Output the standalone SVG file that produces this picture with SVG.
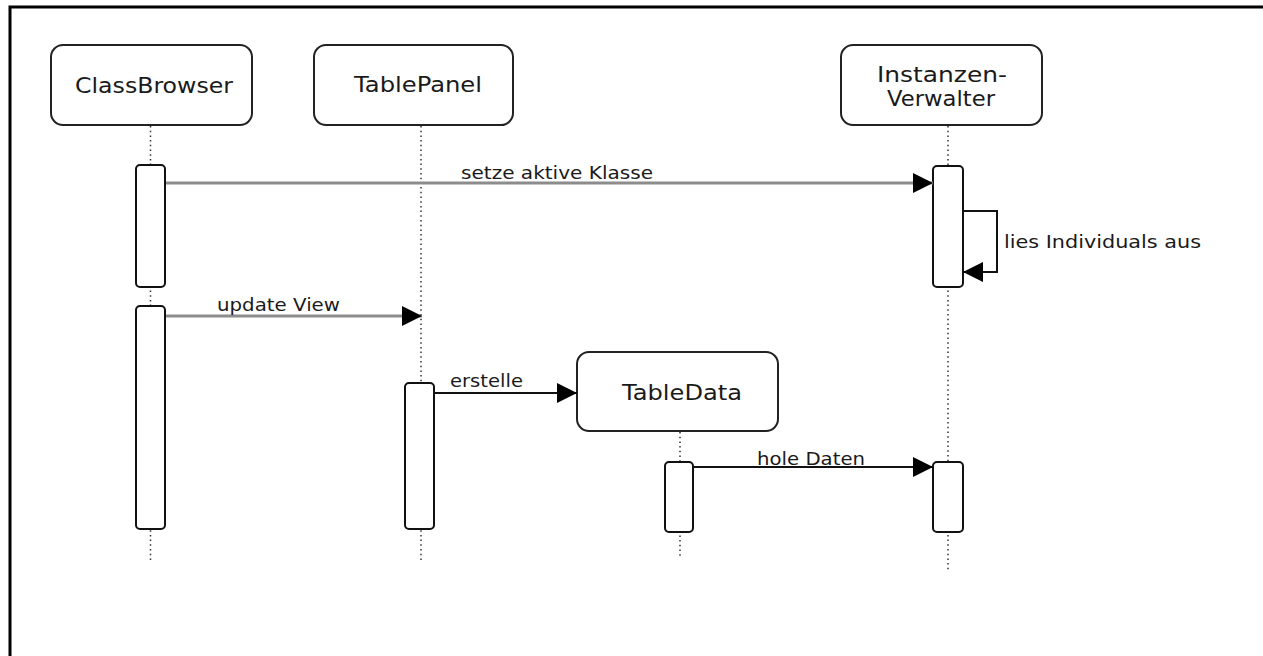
<svg xmlns="http://www.w3.org/2000/svg" width="1263" height="656" viewBox="0 0 1263 656">
  <style>
    .frame { fill: none; stroke: #000; stroke-width: 3; }
    .head { fill: #fff; stroke: #222; stroke-width: 2; }
    .act { fill: #fff; stroke: #111; stroke-width: 2; }
    .life { stroke: #333; stroke-width: 1.5; stroke-dasharray: 1.5 3.2; fill: none; }
    .name { font-family: "DejaVu Sans", Verdana, sans-serif; font-size: 21px; fill: #1a1a1a; text-anchor: start; }
    .label { font-family: "DejaVu Sans", Verdana, sans-serif; font-size: 17px; fill: #1a1a1a; }
    .msg { fill: none; stroke: #8c8c8c; stroke-width: 3; }
    .call { fill: none; stroke: #111; stroke-width: 2; }
  </style>
  <defs>
    <marker id="arrow" markerUnits="userSpaceOnUse" viewBox="0 0 20 20" refX="20" refY="10" markerWidth="20" markerHeight="20" orient="auto">
      <path d="M0,0 L20,10 L0,20 Z" fill="#000"/>
    </marker>
  </defs>

  <rect width="1263" height="656" fill="#fff"/>
  <!-- sequence frame (extends past the right and bottom edges) -->
  <rect class="frame" x="10" y="7" width="1300" height="700"/>

  <!-- lifelines -->
  <g id="lifelines">
    <line class="life" x1="150.5" y1="126" x2="150.5" y2="563"/>
    <line class="life" x1="421" y1="126" x2="421" y2="562"/>
    <line class="life" x1="680" y1="432" x2="680" y2="559"/>
    <line class="life" x1="948" y1="126" x2="948" y2="570"/>
  </g>

  <g id="ClassBrowser">
    <rect class="head" x="51" y="45" width="201" height="80" rx="12"/>
    <text class="name" x="75" y="93" textLength="158" lengthAdjust="spacingAndGlyphs">ClassBrowser</text>
    <rect class="act" x="136" y="165" width="29" height="122" rx="4"/>
    <rect class="act" x="136" y="306" width="29" height="223" rx="4"/>
  </g>

  <g id="TablePanel">
    <rect class="head" x="314" y="45" width="199" height="80" rx="12"/>
    <text class="name" x="354" y="92" textLength="128" lengthAdjust="spacingAndGlyphs">TablePanel</text>
    <rect class="act" x="405" y="383" width="29" height="146" rx="4"/>
  </g>

  <g id="InstanzenVerwalter">
    <rect class="head" x="841" y="45" width="201" height="80" rx="12"/>
    <text class="name" x="877" y="82" textLength="130" lengthAdjust="spacingAndGlyphs">Instanzen-</text>
    <text class="name" x="887" y="106" textLength="108" lengthAdjust="spacingAndGlyphs">Verwalter</text>
    <rect class="act" x="933" y="166" width="30" height="121" rx="4"/>
    <rect class="act" x="933" y="462" width="30" height="70" rx="4"/>
  </g>

  <g id="TableData">
    <rect class="head" x="577" y="352" width="201" height="79" rx="12"/>
    <text class="name" x="622" y="400" textLength="120" lengthAdjust="spacingAndGlyphs">TableData</text>
    <rect class="act" x="665" y="462" width="28" height="70" rx="4"/>
  </g>

  <!-- messages -->
  <g id="messages">
    <line class="msg" x1="166" y1="183" x2="933" y2="183" marker-end="url(#arrow)"/>
    <text class="label" x="461" y="179" textLength="192" lengthAdjust="spacingAndGlyphs">setze aktive Klasse</text>

    <path class="call" d="M963,211 H997 V272 H963" marker-end="url(#arrow)"/>
    <text class="label" x="1004" y="248" textLength="197" lengthAdjust="spacingAndGlyphs">lies Individuals aus</text>

    <line class="msg" x1="166" y1="316" x2="422" y2="316" marker-end="url(#arrow)"/>
    <text class="label" x="217" y="311" textLength="123" lengthAdjust="spacingAndGlyphs">update View</text>

    <line class="call" x1="434" y1="393" x2="577" y2="393" marker-end="url(#arrow)"/>
    <text class="label" x="450" y="387" textLength="73" lengthAdjust="spacingAndGlyphs">erstelle</text>

    <line class="call" x1="693" y1="467" x2="933" y2="467" marker-end="url(#arrow)"/>
    <text class="label" x="757" y="465" textLength="108" lengthAdjust="spacingAndGlyphs">hole Daten</text>
  </g>
</svg>
